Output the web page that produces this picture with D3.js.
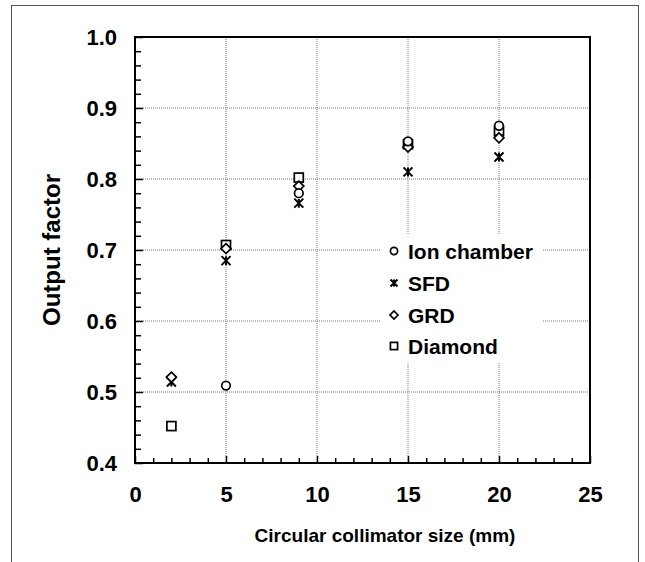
<!DOCTYPE html>
<html>
<head>
<meta charset="utf-8">
<script src="https://cdn.jsdelivr.net/npm/d3@7"></script>
<style>
  html, body { margin: 0; padding: 0; background: #fff; }
  svg { display: block; }
  text { font-family: "Liberation Sans", Arial, sans-serif; font-weight: bold; fill: #000; }
</style>
</head>
<body>
<script>
// ---- data ----
const sizes = [2, 5, 9, 15, 20];                 // circular collimator size (mm)
const ionChamberX = [5, 9, 15, 20];              // ion chamber has no 2 mm point
const ionChamberY = [0.509, 0.780, 0.853, 0.875];
const sfd = [0.514, 0.685, 0.766, 0.810, 0.831];
const grd = [0.521, 0.702, 0.790, 0.845, 0.858];
const diamond = [0.452, 0.707, 0.802, 0.849, 0.868];
const xTicks = [0, 5, 10, 15, 20, 25];
const yTicks = [0.4, 0.5, 0.6, 0.7, 0.8, 0.9, 1.0];
const legendLabels = ["Ion chamber", "SFD", "GRD", "Diamond"];
const xTitle = "Circular collimator size (mm)";
const yTitle = "Output factor";

const W = 645, H = 562;
const plot = { left: 135, right: 590, top: 37, bottom: 463 };

const svg = d3.select("body").append("svg").attr("width", W).attr("height", H);

// outer figure frame
svg.append("rect").attr("x", 11.5).attr("y", 5.5).attr("width", 627).attr("height", 600)
  .attr("fill", "none").attr("stroke", "#555").attr("stroke-width", 1);

const x = d3.scaleLinear().domain([0, 25]).range([plot.left, plot.right]);
const y = d3.scaleLinear().domain([0.4, 1.0]).range([plot.bottom, plot.top]);

// gridlines
const grid = svg.append("g");
grid.selectAll("line.gx").data(xTicks.slice(1, -1)).join("line")
  .attr("x1", d => x(d)).attr("x2", d => x(d))
  .attr("y1", plot.top).attr("y2", plot.bottom)
  .attr("stroke", "#777").attr("stroke-width", 1).attr("stroke-dasharray", "1,1");
grid.selectAll("line.gy").data(yTicks.slice(1, -1)).join("line")
  .attr("y1", d => y(d)).attr("y2", d => y(d))
  .attr("x1", plot.left).attr("x2", plot.right)
  .attr("stroke", "#777").attr("stroke-width", 1).attr("stroke-dasharray", "1,1");

// axes (ticks inward)
const xMinor = d3.range(0, 26, 1);
const yMinor = d3.range(0, 31, 1).map(i => 0.4 + i * 0.02);

const xAxisG = svg.append("g").attr("transform", `translate(0,${plot.bottom})`)
  .call(d3.axisBottom(x).tickValues(xMinor).tickSize(-5).tickFormat(""));
xAxisG.select(".domain").remove();
xAxisG.selectAll(".tick line").attr("stroke-width", 1.5)
  .attr("y2", d => (d % 5 === 0) ? -7 : -5);

const yAxisG = svg.append("g").attr("transform", `translate(${plot.left},0)`)
  .call(d3.axisLeft(y).tickValues(yMinor).tickSize(-6).tickFormat(""));
yAxisG.select(".domain").remove();
yAxisG.selectAll(".tick line").attr("stroke-width", 1.5)
  .attr("x2", (d, i) => (i % 5 === 0) ? 8 : 6);

// tick labels
const xLab = svg.append("g").attr("transform", `translate(0,${plot.bottom})`)
  .call(d3.axisBottom(x).tickValues(xTicks).tickSize(0).tickPadding(23).tickFormat(d3.format("d")));
xLab.select(".domain").remove();
xLab.selectAll("text").style("font-size", "22px").attr("fill", "#000");

const yLab = svg.append("g").attr("transform", `translate(${plot.left},0)`)
  .call(d3.axisLeft(y).tickValues(yTicks).tickSize(0).tickPadding(18).tickFormat(d3.format(".1f")));
yLab.select(".domain").remove();
yLab.selectAll("text").style("font-size", "22px").attr("fill", "#000");

// plot frame
svg.append("rect").attr("x", plot.left).attr("y", plot.top)
  .attr("width", plot.right - plot.left).attr("height", plot.bottom - plot.top)
  .attr("fill", "none").attr("stroke", "#000").attr("stroke-width", 2);

// axis titles
svg.append("text").attr("x", 385).attr("y", 542)
  .attr("text-anchor", "middle").style("font-size", "19px").text(xTitle);
svg.append("text").attr("transform", `translate(60,${(plot.top + plot.bottom) / 2}) rotate(-90)`)
  .attr("text-anchor", "middle").style("font-size", "24px").text(yTitle);

// legend background
svg.append("rect").attr("x", 380).attr("y", 235).attr("width", 163).attr("height", 127).attr("fill", "#fff");

// markers
const sw = 1.7;
function circle(g, cx, cy, r) {
  g.append("circle").attr("cx", cx).attr("cy", cy).attr("r", r)
    .attr("fill", "#fff").attr("stroke", "#000").attr("stroke-width", sw);
}
function square(g, cx, cy, s) {
  g.append("rect").attr("x", cx - s).attr("y", cy - s).attr("width", 2 * s).attr("height", 2 * s)
    .attr("fill", "#fff").attr("stroke", "#000").attr("stroke-width", sw);
}
function diamondM(g, cx, cy, s) {
  g.append("path").attr("d", `M${cx},${cy - s}L${cx + s},${cy}L${cx},${cy + s}L${cx - s},${cy}Z`)
    .attr("fill", "#fff").attr("stroke", "#000").attr("stroke-width", sw);
}
function star(g, cx, cy, s) {
  g.append("path").attr("d",
    `M${cx - s},${cy - s}L${cx + s},${cy + s}M${cx + s},${cy - s}L${cx - s},${cy + s}M${cx},${cy - s}L${cx},${cy + s}`)
    .attr("fill", "none").attr("stroke", "#000").attr("stroke-width", 2);
}

const marks = svg.append("g");
sizes.forEach((s, i) => square(marks, x(s), y(diamond[i]), 4.5));
sizes.forEach((s, i) => star(marks, x(s), y(sfd[i]), 4.5));
sizes.forEach((s, i) => diamondM(marks, x(s), y(grd[i]), 5));
ionChamberX.forEach((s, i) => circle(marks, x(s), y(ionChamberY[i]), 4.3));

// legend
const lg = svg.append("g");
const rowsY = [251, 283, 315, 346];
const symX = 394;
circle(lg, symX, rowsY[0], 3.6);
star(lg, symX, rowsY[1], 3.5);
diamondM(lg, symX, rowsY[2], 4);
square(lg, symX, rowsY[3], 3.6);
lg.selectAll("text.l").data(legendLabels).join("text")
  .attr("x", 408).attr("y", (d, i) => rowsY[i]).attr("dy", "0.36em")
  .style("font-size", "21px").text(d => d);
</script>
</body>
</html>
